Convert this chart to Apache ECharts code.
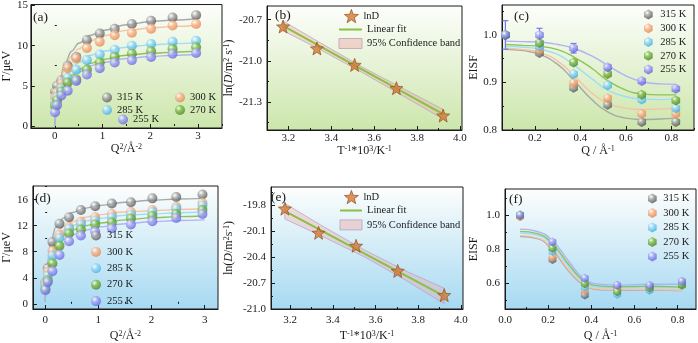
<!DOCTYPE html>
<html>
<head>
<meta charset="utf-8">
<script src="https://cdn.jsdelivr.net/npm/echarts@6/dist/echarts.min.js"></script>
<style>
  html, body { margin: 0; padding: 0; background: #fff; }
  #chart { width: 698px; height: 343px; }
</style>
</head>
<body>
<div id="chart"></div>
<script>
// ---- data ----
const tempNames = ['315 K', '300 K', '285 K', '270 K', '255 K'];

// (a) linewidth vs Q^2, first sample
const q2A = [0.005, 0.048, 0.137, 0.270, 0.449, 0.672, 0.941, 1.254, 1.613, 2.016, 2.465, 2.958];
const gammaA = [
  [4.3, 5.0, 5.7, 7.5, 8.6, 10.7, 11.5, 12.1, 12.7, 13.1, 13.5, 13.8],
  [3.6, 4.2, 5.3, 7.2, 8.4, 9.7, 10.5, 11.3, 11.6, 12.1, 12.5, 12.7],
  [2.9, 3.6, 4.7, 6.0, 7.0, 8.2, 8.9, 9.5, 10.0, 10.2, 10.5, 10.6],
  [2.5, 3.2, 4.3, 5.4, 5.8, 7.0, 7.9, 8.6, 9.0, 9.3, 9.6, 9.8],
  [1.7, 2.6, 3.8, 4.4, 5.6, 6.4, 7.2, 7.9, 8.2, 8.6, 9.0, 9.1]
];
const fitQ2A = [0, 0.05, 0.1, 0.2, 0.35, 0.5, 0.75, 1.0, 1.5, 2.0, 2.5, 3.0];
const fitGammaA = [
  [0, 3.6, 5.6, 7.6, 9.3, 10.3, 11.3, 11.9, 12.6, 13.0, 13.2, 13.35],
  [0, 3.3, 5.2, 7.1, 8.7, 9.6, 10.6, 11.2, 11.9, 12.2, 12.4, 12.55],
  [0, 2.7, 4.3, 5.9, 7.2, 7.9, 8.8, 9.3, 9.8, 10.1, 10.25, 10.35],
  [0, 2.4, 3.8, 5.2, 6.3, 7.0, 7.8, 8.3, 8.8, 9.05, 9.2, 9.3],
  [0, 2.3, 3.6, 5.0, 6.1, 6.7, 7.5, 7.9, 8.4, 8.65, 8.8, 8.9]
];

// (b) / (e) Arrhenius plots
const invT = [3.175, 3.333, 3.509, 3.704, 3.922];
const lnDB = [-20.75, -20.91, -21.03, -21.20, -21.40];
const fitXB = [3.175, 3.922];
const fitYB = [-20.745, -21.39];
const bandX = [3.175, 3.35, 3.55, 3.75, 3.922];
const bandHiB = [-20.71, -20.87, -21.05, -21.215, -21.355];
const bandLoB = [-20.78, -20.92, -21.09, -21.27, -21.425];

const lnDE = [-19.84, -20.12, -20.27, -20.56, -20.84];
const fitYE = [-19.87, -20.85];
const bandHiE = [-19.78, -20.04, -20.32, -20.57, -20.76];
const bandLoE = [-19.96, -20.16, -20.40, -20.68, -20.94];

// (c) EISF, first sample
const qC = [0.07, 0.22, 0.37, 0.52, 0.67, 0.82];
const eisfC = [
  [1.0, 0.962, 0.889, 0.853, 0.817, 0.817],
  [1.0, 0.969, 0.899, 0.867, 0.834, 0.834],
  [1.0, 0.976, 0.918, 0.894, 0.864, 0.846],
  [1.0, 0.983, 0.942, 0.918, 0.874, 0.862],
  [1.0, 1.0, 0.972, 0.932, 0.903, 0.887]
];
const errC255 = [0.03, 0.014, 0.01, 0.005, 0.004, 0.004];
const fitQ = [0.07, 0.15, 0.22, 0.3, 0.37, 0.45, 0.52, 0.6, 0.67, 0.75, 0.82];
const fitEisfC = [
  [0.970, 0.967, 0.959, 0.938, 0.905, 0.864, 0.838, 0.825, 0.822, 0.823, 0.825],
  [0.972, 0.969, 0.963, 0.945, 0.915, 0.878, 0.856, 0.846, 0.843, 0.844, 0.846],
  [0.976, 0.974, 0.970, 0.959, 0.937, 0.908, 0.884, 0.870, 0.865, 0.864, 0.865],
  [0.980, 0.978, 0.976, 0.969, 0.954, 0.930, 0.904, 0.884, 0.876, 0.874, 0.874],
  [0.987, 0.986, 0.985, 0.980, 0.972, 0.956, 0.936, 0.914, 0.902, 0.897, 0.896]
];

// (d) linewidth vs Q^2, second sample
const gammaD = [
  [3.3, 5.5, 9.5, 12.3, 13.3, 14.4, 15.0, 15.4, 15.6, 16.2, 16.4, 16.8],
  [3.1, 4.9, 8.1, 10.6, 11.8, 12.6, 13.3, 13.8, 14.1, 14.4, 14.9, 15.5],
  [2.8, 4.3, 7.4, 10.1, 11.5, 12.2, 12.8, 13.3, 13.7, 14.1, 14.6, 15.1],
  [2.3, 3.6, 6.2, 8.9, 10.8, 11.4, 12.2, 12.5, 13.1, 13.5, 13.8, 14.4],
  [2.1, 3.3, 5.0, 7.5, 9.6, 10.5, 11.1, 11.6, 12.2, 12.7, 13.2, 13.8]
];
const fitQ2D = [0, 0.02, 0.05, 0.1, 0.2, 0.35, 0.5, 0.75, 1.0, 1.5, 2.0, 2.5, 3.0];
const fitGammaD = [
  [0.5, 3.5, 6.5, 9.3, 11.8, 13.2, 14.0, 14.7, 15.1, 15.6, 15.9, 16.1, 16.2],
  [0.3, 3.0, 5.8, 8.3, 10.6, 11.9, 12.6, 13.3, 13.7, 14.1, 14.3, 14.5, 14.6],
  [0.3, 2.8, 5.4, 7.8, 10.0, 11.3, 12.0, 12.7, 13.1, 13.6, 13.8, 14.0, 14.1],
  [0.3, 2.5, 4.9, 7.2, 9.3, 10.6, 11.3, 12.0, 12.4, 12.9, 13.2, 13.4, 13.5],
  [0.2, 2.2, 4.4, 6.5, 8.6, 9.9, 10.6, 11.3, 11.8, 12.3, 12.6, 12.8, 12.9]
];

// (f) EISF, second sample
const eisfF = [
  [0.995, 0.740, 0.532, 0.574, 0.580, 0.598],
  [0.990, 0.755, 0.560, 0.560, 0.566, 0.607],
  [1.0, 0.787, 0.579, 0.536, 0.560, 0.600],
  [1.0, 0.806, 0.598, 0.551, 0.574, 0.589],
  [1.0, 0.843, 0.630, 0.589, 0.589, 0.612]
];
const fitEisfF = [
  [0.875, 0.862, 0.795, 0.665, 0.588, 0.562, 0.559, 0.560, 0.561, 0.560, 0.558],
  [0.880, 0.867, 0.803, 0.673, 0.593, 0.566, 0.563, 0.564, 0.565, 0.563, 0.560],
  [0.895, 0.882, 0.822, 0.692, 0.604, 0.577, 0.573, 0.575, 0.576, 0.575, 0.575],
  [0.905, 0.892, 0.833, 0.703, 0.613, 0.584, 0.580, 0.582, 0.583, 0.581, 0.578],
  [0.918, 0.904, 0.850, 0.722, 0.624, 0.594, 0.590, 0.593, 0.595, 0.595, 0.595]
];

// tick labels
const ticksAx = [0, 1, 2, 3], ticksAy = [0, 5, 10, 15];
const ticksBx = [3.2, 3.4, 3.6, 3.8, 4.0], ticksBy = [-21.3, -21.0, -20.7];
const ticksCx = [0.2, 0.4, 0.6, 0.8], ticksCy = [0.8, 0.9, 1.0];
const ticksDx = [0, 1, 2, 3], ticksDy = [0, 4, 8, 12, 16];
const ticksEx = [3.2, 3.4, 3.6, 3.8, 4.0], ticksEy = [-21.0, -20.7, -20.4, -20.1, -19.8];
const ticksFx = [0.0, 0.2, 0.4, 0.6, 0.8], ticksFy = [0.6, 0.8, 1.0];

// ---- styling ----
const serif = '"Liberation Serif", "Times New Roman", serif';
const ink = '#1a1a1a';
const palette = [
  { mid: '#a3a3a3', dark: '#555555', line: '#a8a8a8' },
  { mid: '#f8b68c', dark: '#e2874e', line: '#f7c3a2' },
  { mid: '#94d8f6', dark: '#3fafe3', line: '#9fdcf6' },
  { mid: '#80bd48', dark: '#4c861e', line: '#8cc45a' },
  { mid: '#a4a6f7', dark: '#6264df', line: '#b0b2f6' }
];
const hexagon = 'path://M0,-10L8.66,-5L8.66,5L0,10L-8.66,5L-8.66,-5Z';
const star = 'path://M0,-10L2.47,-3.4L9.51,-3.09L3.99,1.3L5.88,8.09L0,4.2L-5.88,8.09L-3.99,1.3L-9.51,-3.09L-2.47,-3.4Z';

function sphere(i) {
  return {
    type: 'radial', x: 0.35, y: 0.32, r: 0.72,
    colorStops: [
      { offset: 0, color: '#ffffff' },
      { offset: 0.4, color: palette[i].mid },
      { offset: 1, color: palette[i].dark }
    ]
  };
}
function bgGrad(bottom) {
  return { type: 'linear', x: 0, y: 0, x2: 0, y2: 1,
    colorStops: [{ offset: 0, color: '#fdfefc' }, { offset: 1, color: bottom }] };
}

const gridBoxes = [
  { left: 28, top: 4, width: 194, height: 124, bg: '#cce6ab' },
  { left: 267, top: 6, width: 195, height: 124, bg: '#cce6ab' },
  { left: 502, top: 5, width: 192, height: 125, bg: '#cce6ab' },
  { left: 29, top: 186, width: 189, height: 123, bg: '#a6d9f2' },
  { left: 271, top: 187, width: 192, height: 124, bg: '#a6d9f2' },
  { left: 505, top: 189, width: 191, height: 123, bg: '#a6d9f2' }
];

const nameRich = {
  sup: { fontSize: 8, verticalAlign: 'top', fontFamily: serif, color: ink },
  i: { fontStyle: 'italic', fontSize: 12, fontFamily: serif, color: ink }
};

function minorOf(ticks, min, max) {
  const step = ticks[1] - ticks[0];
  const out = [];
  for (let v = ticks[0] - step / 2; v <= max + 1e-9; v += step) {
    if (v >= min - 1e-9 && !ticks.some(t => Math.abs(t - v) < 1e-6)) out.push(+v.toFixed(4));
  }
  return out;
}

const xAxes = [], yAxes = [], minorX = [], minorY = [];
function addAxes(gi, xr, yr, tx, ty, dx, dy, xName, yName, xGap, yGap, xMargin, yMargin) {
  const common = (dim, r, ticks, digits, name, gap, margin) => ({
    type: 'value', gridIndex: gi, min: r[0], max: r[1],
    position: dim === 'x' ? 'bottom' : 'left',
    name, nameLocation: 'middle', nameGap: gap,
    nameTextStyle: { fontFamily: serif, fontSize: 12, color: ink, rich: nameRich },
    axisLine: { show: true, onZero: false, lineStyle: { color: ink, width: 1 } },
    axisTick: { show: true, inside: true, length: 4, customValues: ticks, lineStyle: { color: ink } },
    axisLabel: { customValues: ticks, margin, formatter: v => v.toFixed(digits),
      fontFamily: serif, fontSize: 11, color: ink },
    splitLine: { show: false }
  });
  const minor = (dim, r, ticks) => ({
    type: 'value', gridIndex: gi, min: r[0], max: r[1],
    position: dim === 'x' ? 'bottom' : 'left',
    axisLine: { show: false }, axisLabel: { show: false }, splitLine: { show: false },
    axisTick: { show: true, inside: true, length: 2, customValues: minorOf(ticks, r[0], r[1]),
      lineStyle: { color: ink } }
  });
  xAxes.push(common('x', xr, tx, dx, xName, xGap, xMargin));
  yAxes.push(common('y', yr, ty, dy, yName, yGap, yMargin));
  minorX.push(minor('x', xr, tx));
  minorY.push(minor('y', yr, ty));
}

addAxes(0, [-0.5, 3.5], [-0.25, 15.12], ticksAx, ticksAy, 0, 0,
  'Q{sup|2}/Å{sup|-2}', 'Γ/μeV', 7, 14, 3, 3);
addAxes(1, [3.1, 4.01], [-21.505, -20.6], ticksBx, ticksBy, 1, 1,
  'T{sup|-1}*10{sup|3}/K{sup|-1}', 'ln({i|D}/m{sup|2} s{sup|-1})', 7, 32, 3, 5);
addAxes(2, [0.055, 0.9], [0.8, 1.063], ticksCx, ticksCy, 1, 1,
  'Q / Å{sup|-1}', 'EISF', 7, 22, 3, 5);
addAxes(3, [-0.23, 3.25], [-0.8, 18.1], ticksDx, ticksDy, 0, 0,
  'Q{sup|2}/Å{sup|-2}', 'Γ/μeV', 21, 15, 6, 5);
addAxes(4, [3.11, 4.01], [-21.0, -19.59], ticksEx, ticksEy, 1, 1,
  'T{sup|-1}*10{sup|3}/K{sup|-1}', 'ln({i|D}/m{sup|2}s{sup|-1})', 21, 36, 6, 5);
addAxes(5, [0.0, 0.885], [0.45, 1.153], ticksFx, ticksFy, 1, 1,
  'Q / Å{sup|-1}', 'EISF', 21, 25, 6, 5);

// ---- series ----
const series = [];
function addGammaPanel(gi, xs, vals, fitXs, fitVals) {
  tempNames.forEach((name, i) => {
    series.push({
      type: 'line', name: name + ' fit', xAxisIndex: gi, yAxisIndex: gi,
      data: fitXs.map((x, j) => [x, fitVals[i][j]]),
      smooth: 0.35, smoothMonotone: 'x', symbol: 'none', silent: true, z: 2,
      lineStyle: { color: palette[i].line, width: 1.4 }
    });
  });
  tempNames.forEach((name, i) => {
    series.push({
      type: 'scatter', name, xAxisIndex: gi, yAxisIndex: gi,
      data: xs.map((x, j) => [x, vals[i][j]]),
      symbol: 'circle', symbolSize: 10, z: 3,
      itemStyle: { color: sphere(i) }
    });
  });
}
function addEisfPanel(gi, xs, vals, fitVals, size) {
  tempNames.forEach((name, i) => {
    series.push({
      type: 'line', name: name + ' fit', xAxisIndex: gi, yAxisIndex: gi,
      data: fitQ.map((x, j) => [x, fitVals[i][j]]),
      smooth: 0.5, symbol: 'none', silent: true, z: 2,
      lineStyle: { color: palette[i].line, width: 1.4 }
    });
  });
  tempNames.forEach((name, i) => {
    series.push({
      type: 'scatter', name, xAxisIndex: gi, yAxisIndex: gi,
      data: xs.map((x, j) => [x, vals[i][j]]),
      symbol: hexagon, symbolKeepAspect: true, symbolSize: size, z: 4,
      itemStyle: { color: sphere(i) }
    });
  });
}
function addArrhenius(gi, lnD, fitY, lo, hi) {
  series.push({
    type: 'custom', name: '95% Confidence band', xAxisIndex: gi, yAxisIndex: gi, z: 1,
    data: bandX.map((x, j) => [x, lo[j], hi[j]]),
    renderItem(params, api) {
      if (params.dataIndex !== 0) return { type: 'group', children: [] };
      const pts = bandX.map((x, j) => api.coord([x, hi[j]]))
        .concat(bandX.map((x, j) => api.coord([x, lo[j]])).reverse());
      return { type: 'polygon', shape: { points: pts },
        style: { fill: 'rgba(238,168,168,0.38)', stroke: 'rgba(185,160,190,0.75)', lineWidth: 1 } };
    }
  });
  series.push({
    type: 'line', name: 'Linear fit', xAxisIndex: gi, yAxisIndex: gi, z: 2,
    data: fitXB.map((x, j) => [x, fitY[j]]), symbol: 'none',
    lineStyle: { color: '#8bbf45', width: 2 }
  });
  series.push({
    type: 'scatter', name: 'lnD', xAxisIndex: gi, yAxisIndex: gi, z: 3,
    data: invT.map((x, j) => [x, lnD[j]]),
    symbol: star, symbolSize: 13,
    itemStyle: { color: '#d27a36', borderColor: '#8c4515', borderWidth: 0.8 }
  });
}

addGammaPanel(0, q2A, gammaA, fitQ2A, fitGammaA);
addArrhenius(1, lnDB, fitYB, bandLoB, bandHiB);
addEisfPanel(2, qC, eisfC, fitEisfC, 10);
series.push({
  type: 'custom', name: 'err', xAxisIndex: 2, yAxisIndex: 2, z: 3,
  data: qC.map((q, j) => [q, eisfC[4][j] - errC255[j], eisfC[4][j] + errC255[j]]),
  renderItem(params, api) {
    const lo = api.coord([api.value(0), api.value(1)]);
    const hi = api.coord([api.value(0), api.value(2)]);
    const st = { stroke: '#7577ea', lineWidth: 1.2 };
    return { type: 'group', children: [
      { type: 'line', shape: { x1: lo[0], y1: lo[1], x2: hi[0], y2: hi[1] }, style: st },
      { type: 'line', shape: { x1: hi[0] - 3, y1: hi[1], x2: hi[0] + 3, y2: hi[1] }, style: st },
      { type: 'line', shape: { x1: lo[0] - 3, y1: lo[1], x2: lo[0] + 3, y2: lo[1] }, style: st }
    ] };
  }
});
addGammaPanel(3, q2A, gammaD, fitQ2D, fitGammaD);
addArrhenius(4, lnDE, fitYE, bandLoE, bandHiE);
addEisfPanel(5, qC, eisfF, fitEisfF, 9);

// ---- legends ----
const legendText = { fontFamily: serif, fontSize: 10.5, color: ink };
function legend(items, left, top, gap, w, h) {
  return { orient: 'vertical', left, top, itemGap: gap, itemWidth: w, itemHeight: h,
    padding: 0, selectedMode: false, textStyle: legendText, data: items };
}
const sphereItem = n => ({ name: n, icon: 'circle', itemStyle: { color: sphere(tempNames.indexOf(n)) } });
const hexItem = n => ({ name: n, icon: hexagon, itemStyle: { color: sphere(tempNames.indexOf(n)) } });
const starItem = { name: 'lnD', icon: star, itemStyle: { color: '#d27a36', borderColor: '#8c4515', borderWidth: 0.8 } };
const fitItems = [
  { name: 'Linear fit', itemStyle: { opacity: 0 }, lineStyle: { color: '#8bbf45', width: 2 } },
  { name: '95% Confidence band', icon: 'rect',
    itemStyle: { color: 'rgba(238,168,168,0.45)', borderColor: 'rgba(185,160,190,0.8)', borderWidth: 1 } }
];

const legends = [
  legend(['315 K', '285 K'].map(sphereItem), 102, 92, 1.5, 10, 10),
  legend(['300 K', '270 K'].map(sphereItem), 175, 92, 1.5, 10, 10),
  legend(['255 K'].map(sphereItem), 118, 114, 1.5, 10, 10),
  legend([starItem], 344, 9, 2, 14, 14),
  legend(fitItems, 338, 24, 3, 23, 10),
  legend(tempNames.map(hexItem), 644, 9, 2.75, 14, 10),
  legend(tempNames.map(sphereItem), 91, 230, 5.4, 12, 10),
  legend([starItem], 344, 190, 2, 14, 14),
  legend(fitItems, 339, 205, 3.4, 22, 10),
  legend(tempNames.map(hexItem), 648, 193, 3.5, 12, 10)
];

// ---- panel tags ----
const tags = [['(a)', 33, 10], ['(b)', 275, 8], ['(c)', 514, 9], ['(d)', 35, 191], ['(e)', 271, 190], ['(f)', 509, 192]];

const chart = echarts.init(document.getElementById('chart'), null, { renderer: 'canvas' });
chart.setOption({
  animation: false,
  backgroundColor: '#ffffff',
  grid: gridBoxes.map(g => ({
    left: g.left, top: g.top, width: g.width, height: g.height, show: true,
    backgroundColor: bgGrad(g.bg), borderColor: ink, borderWidth: 1
  })),
  xAxis: xAxes.concat(minorX),
  yAxis: yAxes.concat(minorY),
  legend: legends,
  series,
  graphic: tags.map(([t, x, y]) => ({
    type: 'text', left: x, top: y, z: 10,
    style: { text: t, font: '13.5px ' + serif, fill: ink }
  }))
});
</script>
</body>
</html>
